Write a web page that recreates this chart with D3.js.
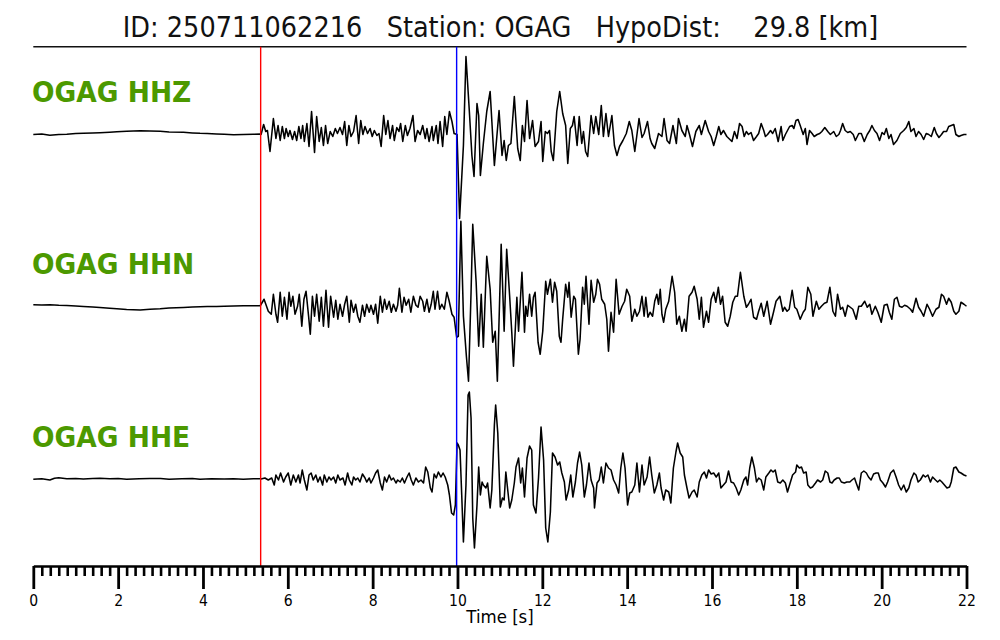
<!DOCTYPE html>
<html><head><meta charset="utf-8">
<script src="https://cdn.jsdelivr.net/npm/d3@7"></script>
<style>html,body{margin:0;padding:0;background:#fff}svg{display:block}</style>
</head><body>
<svg id="c" width="1000" height="640"></svg>
<script>
// ---------- data (time [s], normalized amplitude) ----------
const titleText = "ID: 250711062216   Station: OGAG   HypoDist:    29.8 [km]";
const station = "OGAG";
const channels = ["HHZ", "HHN", "HHE"];
const pickP = 5.36;   // red line
const pickS = 9.98;   // blue line
const tickLabels = [0, 2, 4, 6, 8, 10, 12, 14, 16, 18, 20, 22];
const timeDomain = [0, 22];
const ampDomain = [-100, 100];

const hhz = [[0,-1],[0.2,-0.5],[0.39,-1.8],[0.6,-1],[0.79,-0.8],[1.0,0],[1.18,0.2],[1.4,0.5],[1.57,0.8],[1.8,1.3],[1.97,1.8],[2.2,2.3],[2.52,2.8],[2.75,2.5],[2.99,2.2],[3.2,1.6],[3.54,1.2],[3.75,0.6],[3.93,0.2],[4.1,0],[4.32,-0.5],[4.5,-0.8],[4.72,-1.2],[4.95,-0.9],[5.19,-0.8],[5.35,-0.6],
[5.37,-1],[5.43,9],[5.48,2],[5.52,3],[5.58,-18],[5.66,15],[5.72,-5],[5.77,8],[5.82,-7],[5.87,7],[5.92,-5],[5.96,5],[6.01,-3],[6.05,3],[6.11,-6],[6.16,2],[6.21,-7],[6.26,7],[6.31,-5],[6.35,8],[6.39,-8],[6.45,10],[6.50,-13],[6.56,22],[6.63,-19],[6.68,17],[6.74,-8],[6.79,6],[6.84,-12],[6.89,8],[6.94,-10],[7.00,2],[7.06,-3],[7.12,5],[7.17,0],[7.23,6],[7.29,-1],[7.34,12],[7.39,-12],[7.44,8],[7.49,-3],[7.55,2],[7.61,18],[7.67,-10],[7.72,13],[7.77,-1],[7.82,7],[7.88,0],[7.94,5],[7.99,-3],[8.04,3],[8.10,-2],[8.15,0],[8.20,-13],[8.26,18],[8.31,-1],[8.36,13],[8.41,-5],[8.47,8],[8.51,-7],[8.57,6],[8.62,2],[8.66,10],[8.71,-8],[8.77,8],[8.82,-2],[8.88,5],[8.95,18],[9.00,-8],[9.06,3],[9.12,-1],[9.18,8],[9.24,-5],[9.28,5],[9.33,-8],[9.40,7],[9.43,-7],[9.50,8],[9.54,-10],[9.59,12],[9.65,-13],[9.70,17],[9.75,-1],[9.81,22],[9.87,12],[9.92,0],[9.99,-1],[10.05,-85],[10.14,-12],[10.20,77],[10.28,22],[10.34,-22],[10.39,-43],[10.46,30],[10.50,18],[10.54,-42],[10.61,-10],[10.69,22],[10.77,42],
[10.87,-32],[10.98,23],[11.05,-22],[11.10,-7],[11.15,-27],[11.20,-12],[11.26,-10],[11.34,37],[11.42,-15],[11.48,-27],[11.53,8],[11.58,-8],[11.64,33],[11.70,-5],[11.77,13],[11.83,-13],[11.91,-8],[11.97,12],[12.01,-28],[12.07,2],[12.12,0],[12.17,3],[12.21,-18],[12.26,-27],[12.34,22],[12.41,42],[12.48,20],[12.55,8],[12.60,-30],[12.66,5],[12.71,8],[12.75,17],[12.82,-12],[12.87,17],[12.93,-10],[12.97,2],[13.02,-18],[13.07,-23],[13.15,18],[13.21,0],[13.26,17],[13.33,-1],[13.39,28],[13.44,-3],[13.50,20],[13.56,-3],[13.64,18],[13.70,-12],[13.76,-22],[13.82,-13],[13.90,-7],[13.98,0],[14.05,12],[14.11,3],[14.18,-18],[14.28,15],[14.35,-4],[14.40,0],[14.48,12],[14.54,-5],[14.58,-10],[14.65,-15],[14.74,0],[14.82,-3],[14.87,15],[14.94,-7],[15.00,-10],[15.08,8],[15.16,-10],[15.21,15],[15.29,3],[15.37,-3],[15.41,8],[15.47,-1],[15.54,-13],[15.62,2],[15.70,8],[15.75,-1],[15.84,13],[15.92,2],[15.98,-3],[16.04,-12],[16.10,-3],[16.16,7],[16.21,-1],[16.27,3],[16.35,-3],
[16.47,-8],[16.53,2],[16.59,-5],[16.65,10],[16.71,7],[16.76,-3],[16.81,2],[16.86,-1],[16.92,1],[16.98,-7],[17.05,-3],[17.10,0],[17.16,10],[17.22,3],[17.26,-3],[17.31,-1],[17.38,3],[17.43,0],[17.49,5],[17.56,-8],[17.63,7],[17.67,-7],[17.73,-1],[17.78,3],[17.83,7],[17.89,8],[17.93,5],[17.98,13],[18.03,14],[18.08,8],[18.15,-1],[18.20,5],[18.24,-11],[18.30,3],[18.36,0],[18.41,-3],[18.48,-1],[18.54,0],[18.59,2],[18.66,6],[18.73,2],[18.79,-1],[18.87,2],[18.93,-3],[18.99,-1],[19.03,3],[19.08,10],[19.14,3],[19.20,1],[19.26,2],[19.33,-1],[19.38,-7],[19.46,0],[19.52,0],[19.59,-8],[19.66,-1],[19.72,3],[19.77,8],[19.83,3],[19.89,0],[19.95,-7],[20.01,1],[20.06,-1],[20.11,5],[20.17,-5],[20.22,-1],[20.28,-11],[20.36,-7],[20.44,0],[20.52,3],[20.58,6],[20.64,12],[20.69,2],[20.76,5],[20.81,-3],[20.87,2],[20.93,-1],[20.99,-6],[21.05,0],[21.11,-1],[21.17,-3],[21.24,6],[21.29,0],[21.35,-4],[21.41,-1],[21.46,2],[21.53,2],[21.58,7],[21.64,8],[21.70,9],[21.75,-1],[21.82,-3],[21.87,-2],[21.94,-1],[22.0,-1]];

const hhn = [[0,1.5],[0.2,1.2],[0.39,1.5],[0.6,1.0],[0.79,0.8],[1.0,0.3],[1.18,-0.2],[1.4,-0.8],[1.57,-1.2],[1.8,-2],[1.97,-2.5],[2.2,-3.2],[2.52,-3.8],[2.75,-3],[2.99,-2.5],[3.2,-1.8],[3.54,-1.2],[3.75,-0.8],[3.93,-0.5],[4.1,-0.3],[4.32,-0.2],[4.5,0],[4.72,0.2],[4.95,0.4],[5.19,0.5],[5.35,0.5],
[5.44,7],[5.54,-5],[5.61,-8],[5.66,12],[5.72,-8],[5.76,-16],[5.82,14],[5.87,-10],[5.92,9],[5.98,-13],[6.03,14],[6.07,0],[6.12,10],[6.17,-8],[6.23,0],[6.27,12],[6.33,-20],[6.38,7],[6.43,15],[6.49,-10],[6.53,-28],[6.58,10],[6.63,-10],[6.68,12],[6.74,-15],[6.79,9],[6.84,-20],[6.90,16],[6.96,-21],[7.01,10],[7.08,-11],[7.13,6],[7.18,-13],[7.23,2],[7.29,-10],[7.34,2],[7.39,10],[7.45,-16],[7.49,6],[7.55,-6],[7.60,2],[7.65,-10],[7.70,-16],[7.76,1],[7.81,-10],[7.86,2],[7.92,-6],[7.96,1],[8.02,-8],[8.07,2],[8.12,-17],[8.18,10],[8.23,-6],[8.28,7],[8.33,-3],[8.39,5],[8.44,-6],[8.49,2],[8.55,-5],[8.59,1],[8.63,18],[8.69,-6],[8.74,9],[8.79,1],[8.85,7],[8.90,-6],[8.96,10],[9.02,1],[9.07,-1],[9.12,10],[9.18,5],[9.22,-5],[9.28,7],[9.33,-6],[9.38,2],[9.43,15],[9.47,-3],[9.53,15],[9.58,-3],[9.63,2],[9.69,-3],[9.75,14],[9.80,6],[9.87,-8],[9.92,-11],[9.98,-31],[10.02,-30],[10.08,85],[10.14,-10],[10.21,-50],[10.26,-75],[10.32,14],[10.36,82],[10.44,24],[10.50,-40],[10.56,12],[10.61,-41],[10.69,50],
[10.77,17],[10.83,-36],[10.89,-25],[10.94,-75],[11.03,62],[11.10,-25],[11.16,57],[11.23,10],[11.28,-26],[11.32,-60],[11.40,9],[11.44,-25],[11.52,34],[11.58,-26],[11.61,0],[11.65,-10],[11.70,12],[11.75,-10],[11.79,9],[11.83,14],[11.90,-36],[11.95,-48],[12.01,-25],[12.08,25],[12.12,12],[12.19,27],[12.24,4],[12.29,24],[12.34,15],[12.40,-30],[12.44,-36],[12.48,-13],[12.55,22],[12.60,9],[12.63,24],[12.68,-11],[12.74,10],[12.78,7],[12.85,-48],[12.89,-33],[12.95,19],[12.99,2],[13.03,30],[13.10,-18],[13.15,26],[13.21,4],[13.26,12],[13.30,27],[13.35,22],[13.40,7],[13.47,2],[13.52,-13],[13.56,-45],[13.62,-6],[13.68,-26],[13.74,27],[13.81,-8],[13.88,0],[13.94,5],[13.99,17],[14.06,10],[14.11,-15],[14.18,-3],[14.23,-10],[14.29,-5],[14.35,10],[14.40,-10],[14.44,9],[14.49,-11],[14.54,-6],[14.60,-10],[14.65,5],[14.70,12],[14.74,2],[14.78,17],[14.82,-8],[14.86,-16],[14.91,-3],[14.98,5],[15.06,30],[15.12,14],[15.17,-18],[15.23,-10],[15.29,-25],[15.35,-13],[15.39,-25],[15.46,10],[15.53,14],[15.58,20],[15.65,7],[15.70,-13],[15.75,9],[15.80,-21],[15.87,-5],[15.92,-16],[15.98,7],[16.04,14],[16.09,4],[16.15,19],[16.20,2],[16.25,10],[16.31,-16],[16.37,-20],[16.43,-10],[16.49,4],[16.55,10],[16.60,10],[16.67,34],
[16.75,10],[16.81,-1],[16.86,2],[16.92,7],[16.98,-11],[17.05,-13],[17.10,-5],[17.16,3],[17.22,-10],[17.30,5],[17.38,-18],[17.45,-6],[17.51,5],[17.60,10],[17.67,-5],[17.71,-1],[17.77,-5],[17.82,-3],[17.89,16],[17.95,-1],[18.00,-3],[18.08,-13],[18.15,-6],[18.20,-3],[18.26,19],[18.33,12],[18.38,-10],[18.46,5],[18.52,-3],[18.58,0],[18.65,3],[18.71,4],[18.78,19],[18.85,-5],[18.91,-10],[18.96,12],[19.03,-3],[19.08,-1],[19.14,-10],[19.20,1],[19.26,-1],[19.32,-3],[19.40,-13],[19.46,0],[19.52,0],[19.60,5],[19.66,-1],[19.72,2],[19.77,-8],[19.85,0],[19.91,-6],[19.99,-16],[20.06,1],[20.13,2],[20.18,-6],[20.24,-13],[20.30,7],[20.36,9],[20.42,0],[20.48,-1],[20.54,1],[20.60,0],[20.68,-3],[20.73,-6],[20.81,8],[20.87,-1],[20.93,-5],[20.99,-10],[21.07,2],[21.13,-3],[21.20,-10],[21.28,-3],[21.35,-1],[21.41,12],[21.46,10],[21.53,2],[21.58,8],[21.64,4],[21.70,-5],[21.75,-8],[21.82,-5],[21.87,4],[21.94,2],[22.0,0]];

const hhe = [[0,-0.3],[0.2,0.3],[0.39,-1],[0.5,0.8],[0.6,1.3],[0.79,0.2],[1.0,0.5],[1.18,0],[1.4,0.6],[1.57,0.7],[1.8,0.2],[2.0,0.5],[2.2,-0.2],[2.5,0.3],[2.75,0.5],[3.0,0.4],[3.2,-0.2],[3.5,0.2],[3.75,0.4],[3.93,-0.3],[4.2,0.2],[4.5,0],[4.72,0.3],[4.95,-0.3],[5.19,0.2],[5.35,0.3],
[5.37,0],[5.46,1],[5.54,-1],[5.62,1],[5.68,-6],[5.72,4],[5.78,-1],[5.83,6],[5.90,-3],[5.95,2],[6.01,6],[6.07,-6],[6.13,4],[6.19,-3],[6.25,4],[6.29,-4],[6.34,9],[6.39,-1],[6.45,-11],[6.50,4],[6.55,6],[6.60,-1],[6.66,4],[6.71,-3],[6.76,2],[6.82,-6],[6.86,4],[6.92,-3],[6.97,2],[7.02,-1],[7.08,2],[7.13,-4],[7.18,4],[7.23,-1],[7.30,1],[7.35,-6],[7.41,6],[7.45,-1],[7.51,-6],[7.55,2],[7.60,-1],[7.65,1],[7.70,-3],[7.76,5],[7.82,1],[7.86,-3],[7.92,1],[7.96,-4],[8.02,1],[8.07,6],[8.12,9],[8.18,-4],[8.23,-11],[8.28,2],[8.33,-3],[8.39,4],[8.44,-1],[8.49,1],[8.55,-4],[8.59,-1],[8.65,-3],[8.70,1],[8.75,-4],[8.81,2],[8.86,6],[8.91,-1],[8.96,-6],[9.02,1],[9.08,-3],[9.14,-1],[9.20,-4],[9.25,12],[9.30,7],[9.36,-9],[9.40,-13],[9.45,5],[9.50,1],[9.55,7],[9.61,2],[9.66,6],[9.71,2],[9.77,-6],[9.81,-16],[9.86,-34],[9.91,-36],[9.95,-26],[9.99,36],[10.02,34],[10.06,29],[10.10,-16],[10.14,-63],[10.20,-6],[10.25,84],[10.28,87],[10.32,61],[10.36,-39],[10.40,-69],[10.46,-26],[10.50,12],[10.54,-16],[10.58,-3],[10.61,-6],[10.67,-9],[10.71,-4],
[10.77,-29],[10.81,-11],[10.87,54],[10.90,74],[10.95,46],[11.01,-28],[11.06,-19],[11.10,-21],[11.14,7],[11.19,-13],[11.23,-29],[11.28,-21],[11.34,-4],[11.38,12],[11.44,21],[11.49,-4],[11.53,11],[11.58,-18],[11.64,21],[11.70,33],[11.75,29],[11.79,-26],[11.85,-34],[11.91,1],[11.97,52],[12.03,19],[12.08,-49],[12.13,-63],[12.19,-33],[12.24,26],[12.30,22],[12.36,14],[12.41,17],[12.46,6],[12.52,-3],[12.56,-21],[12.62,-11],[12.67,4],[12.72,-18],[12.78,-3],[12.83,16],[12.88,27],[12.93,14],[12.99,-18],[13.04,-6],[13.10,16],[13.15,-1],[13.21,-9],[13.23,-29],[13.29,-4],[13.34,-1],[13.39,12],[13.44,-4],[13.50,16],[13.56,11],[13.62,9],[13.68,-1],[13.74,-6],[13.80,-14],[13.85,11],[13.90,26],[13.95,11],[14.01,-26],[14.06,-14],[14.11,-13],[14.18,-6],[14.23,16],[14.29,-13],[14.35,14],[14.40,-6],[14.47,2],[14.53,22],[14.58,4],[14.64,-14],[14.70,-6],[14.76,6],[14.80,-9],[14.86,-21],[14.91,-11],[14.98,-13],[15.03,-24],[15.09,11],[15.15,27],[15.19,36],[15.25,26],[15.31,22],[15.35,4],[15.41,-9],[15.46,-19],[15.53,-13],[15.58,-11],[15.65,-18],[15.70,-3],[15.76,4],[15.82,7],[15.87,1],[15.92,9],[15.98,5],[16.04,6],[16.10,2],[16.16,6],[16.21,-9],[16.27,-6],[16.33,-3],[16.39,8],[16.45,-3],[16.51,-4],[16.57,-9],[16.63,-16],
[16.68,-11],[16.75,-1],[16.80,2],[16.84,-6],[16.89,11],[16.94,22],[17.00,11],[17.05,-3],[17.10,1],[17.16,-1],[17.22,-11],[17.27,2],[17.34,6],[17.39,9],[17.44,7],[17.49,9],[17.55,-3],[17.61,-4],[17.67,-1],[17.73,-4],[17.78,-13],[17.85,-3],[17.90,4],[17.97,7],[18.00,14],[18.06,11],[18.11,12],[18.16,6],[18.22,7],[18.26,-6],[18.32,-9],[18.37,-8],[18.44,-4],[18.49,-1],[18.56,-3],[18.61,-1],[18.67,8],[18.73,6],[18.78,-3],[18.83,-4],[18.88,-1],[18.95,1],[19.00,1],[19.05,-3],[19.12,-4],[19.18,-3],[19.25,-3],[19.30,-1],[19.36,1],[19.40,-4],[19.46,-11],[19.52,6],[19.58,8],[19.64,6],[19.69,2],[19.75,-1],[19.81,5],[19.87,6],[19.92,6],[19.97,-1],[20.03,-4],[20.09,-8],[20.14,-3],[20.21,6],[20.28,9],[20.34,2],[20.40,-6],[20.46,-11],[20.52,-6],[20.58,-13],[20.64,-9],[20.69,-1],[20.76,6],[20.81,4],[20.86,-3],[20.91,-1],[20.98,4],[21.03,2],[21.09,4],[21.15,-3],[21.20,2],[21.27,-1],[21.32,-3],[21.37,-1],[21.42,-3],[21.48,-6],[21.54,-9],[21.60,-8],[21.64,-3],[21.70,11],[21.75,12],[21.82,7],[21.87,6],[21.94,4],[22.0,3]];

const traces = [hhz, hhn, hhe];

// ---------- drawing ----------
const svg = d3.select("#c");
const FONT = "'DejaVu Sans', sans-serif";
const SY = 1.1; // vertical text stretch seen in the reference

const x = d3.scaleLinear().domain(timeDomain).range([33.3, 966.5]);
const rowY = d3.scalePoint().domain(channels).range([133.5, 479]);
const axisY = 566, topY = 46.7;

// title
svg.append("text")
  .attr("transform", `translate(500.5,37.3) scale(1,${SY})`)
  .attr("text-anchor", "middle")
  .attr("font-family", FONT).attr("font-size", 25.6)
  .attr("fill", "#111")
  .style("white-space", "pre")
  .text(titleText);

svg.append("line")
  .attr("x1", x(timeDomain[0])).attr("x2", x(timeDomain[1]))
  .attr("y1", topY).attr("y2", topY)
  .attr("stroke", "#111").attr("stroke-width", 1.6);

// traces
const line = d3.line();
channels.forEach((ch, i) => {
  const base = rowY(ch);
  const y = d3.scaleLinear().domain(ampDomain).range([base + 100, base - 100]);
  line.x(d => x(d[0])).y(d => y(d[1]));
  svg.append("path")
    .datum(traces[i])
    .attr("d", line)
    .attr("fill", "none")
    .attr("stroke", "#000")
    .attr("stroke-width", 1.55)
    .attr("stroke-linejoin", "round");
  svg.append("text")
    .attr("transform", `translate(32,${base - 32}) scale(1,${SY})`)
    .attr("font-family", FONT).attr("font-weight", "bold")
    .attr("font-size", 26.5)
    .attr("fill", "#4c9900")
    .text(`${station} ${ch}`);
});

// picks
[[pickP, "#ff0000"], [pickS, "#0000ff"]].forEach(([t, c]) => {
  svg.append("line")
    .attr("x1", x(t)).attr("x2", x(t))
    .attr("y1", topY).attr("y2", axisY)
    .attr("stroke", c).attr("stroke-width", 1.4);
});

// axis: minor ticks every 0.2 s
const minor = d3.range(0, 111).map(k => +(k * 0.2).toFixed(1)).filter(v => Math.abs(v / 2 - Math.round(v / 2)) > 1e-6);
const gMinor = svg.append("g").attr("transform", `translate(0,${axisY})`)
  .call(d3.axisBottom(x).tickValues(minor).tickSize(10).tickSizeOuter(0).tickFormat(""));
gMinor.select(".domain").remove();
gMinor.selectAll("line").attr("stroke", "#000").attr("stroke-width", 2.6);

const gMajor = svg.append("g").attr("transform", `translate(0,${axisY})`)
  .call(d3.axisBottom(x).tickValues(tickLabels).tickSize(23).tickSizeOuter(0).tickFormat(d3.format("d")));
gMajor.select(".domain").attr("stroke", "#000").attr("stroke-width", 2.4);
gMajor.selectAll(".tick line").attr("stroke", "#000").attr("stroke-width", 2.8);
gMajor.selectAll(".tick text")
  .attr("y", null).attr("dy", null)
  .attr("transform", `translate(0,40) scale(1,${SY})`)
  .attr("font-family", FONT).attr("font-size", 14).attr("fill", "#000");

svg.append("text")
  .attr("transform", `translate(500,623) scale(1,${SY})`)
  .attr("text-anchor", "middle")
  .attr("font-family", FONT).attr("font-size", 16.6)
  .attr("fill", "#000")
  .text("Time [s]");
</script>
</body></html>
